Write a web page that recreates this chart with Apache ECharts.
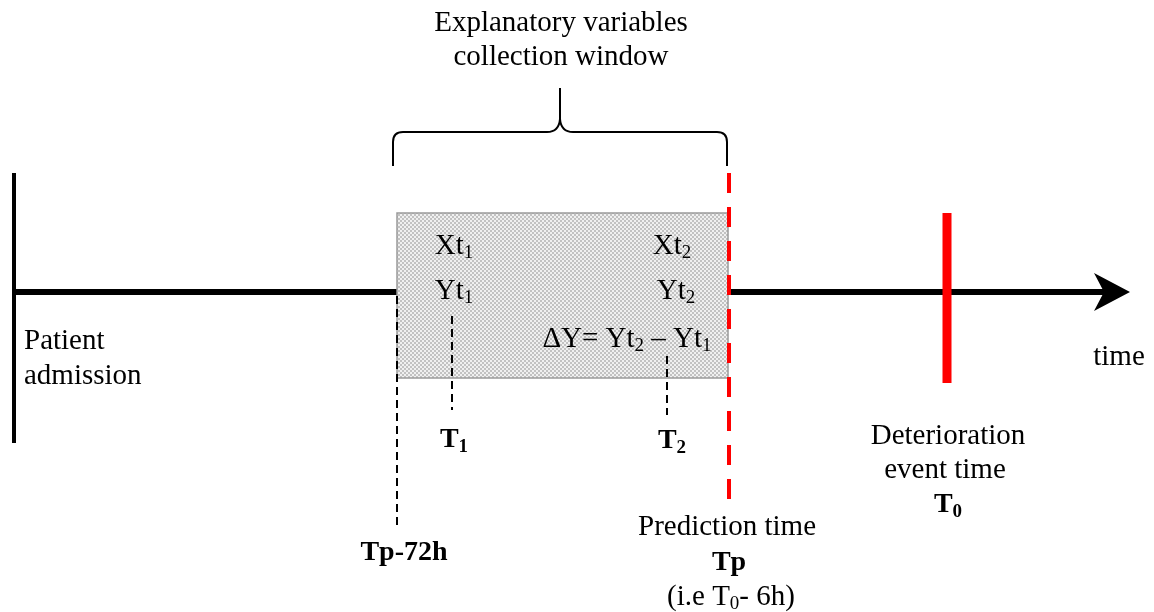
<!DOCTYPE html>
<html><head><meta charset="utf-8">
<script src="https://cdn.jsdelivr.net/npm/echarts@6/dist/echarts.min.js"></script>
<style>html,body{margin:0;padding:0;background:#fff}#c{width:1154px;height:612px}</style>
</head><body><div id="c"></div>
<script>
// ---- Schematic data (axis units of a 0–1154 by 0–612 diagram scale) ----
const timelineY = 292;
const timelineSegments = [[14, 397], [728, 1106]];   // [xStart, xEnd]
const arrowTip = [1130, 292];
const admissionLine = [14, 173, 443];                 // [x, yTop, yBottom]
const eventLine = [947, 213, 383];                    // deterioration T0
const predictionLine = [729, 173, 500];               // Tp (dashed red)
const dashedGuides = [[397, 296, 526], [452, 316, 410], [667, 356, 415]]; // Tp-72h, T1, T2
const windowBox = [397, 213, 728, 378];               // [x0, y0, x1, y1]
const brace = [393, 560, 727, 166, 132, 88];          // [xLeft, xMid, xRight, yEnds, yBar, yTip]

const labelTexts = [
  '{n|Explanatory variables}', '{n|collection window}',
  '{n|Patient}', '{n|admission}',
  '{n|Xt}{s|1}', '{n|Yt}{s|1}', '{n|Xt}{s|2}', '{n|Yt}{s|2}',
  '{n|ΔY= Yt}{s|2}{n| – Yt}{s|1}',
  '{b|T}{bs|1}', '{b|T}{bs|2}', '{b|Tp-72h}',
  '{n|Prediction time}', '{b|Tp}', '{n|(i.e T}{s|0}{n|- 6h)}',
  '{n|Deterioration}', '{n|event time}', '{b|T}{bs|0}',
  '{n|time}'
];
const labelX = [561, 561, 24, 24, 454, 454, 672, 676, 627, 454, 672, 404, 727, 729, 731, 948, 945, 948, 1119];
const labelY = [23, 57, 341, 376, 246, 291, 246, 291, 339, 440, 441, 553, 527, 563, 597, 436, 470, 505, 357];
const labelAlign = ['center','center','left','left','center','center','center','center','center','center','center','center','center','center','center','center','center','center','center'];

// ---- styles ----
const FONT = '"Liberation Serif", "Times New Roman", serif';
const rich = {
  n: {fontFamily: FONT, fontSize: 29, lineHeight: 34, color: '#000'},
  s: {fontFamily: FONT, fontSize: 19, lineHeight: 14, color: '#000', verticalAlign: 'bottom'},
  b: {fontFamily: FONT, fontSize: 28, fontWeight: 'bold', lineHeight: 34, color: '#000'},
  bs: {fontFamily: FONT, fontSize: 19, fontWeight: 'bold', lineHeight: 14, color: '#000', verticalAlign: 'bottom'}
};

function makePattern() {
  const c = document.createElement('canvas');
  c.width = 4; c.height = 4;
  const g = c.getContext('2d');
  g.fillStyle = '#f0f0f0'; g.fillRect(0, 0, 4, 4);
  g.fillStyle = '#c2c2c2'; g.fillRect(0, 0, 2, 2); g.fillRect(2, 2, 2, 2);
  return {image: c, repeat: 'repeat'};
}

function segSeries(data, style, z) {
  return {
    type: 'custom', coordinateSystem: 'cartesian2d', silent: true, clip: false, z: z,
    data: data,
    renderItem: function (params, api) {
      const p1 = api.coord([api.value(0), api.value(1)]);
      const p2 = api.coord([api.value(2), api.value(3)]);
      return {type: 'line', shape: {x1: p1[0], y1: p1[1], x2: p2[0], y2: p2[1]}, style: style};
    }
  };
}
const vert = v => [v[0], v[1], v[0], v[2]];

const chart = echarts.init(document.getElementById('c'), null, {renderer: 'canvas'});
const option = {
  animation: false,
  backgroundColor: '#fff',
  grid: {left: 0, right: 0, top: 0, bottom: 0},
  xAxis: {type: 'value', min: 0, max: 1154, show: false},
  yAxis: {type: 'value', min: 0, max: 612, inverse: true, show: false},
  series: [
    // timeline
    segSeries(timelineSegments.map(s => [s[0], timelineY, s[1], timelineY]), {stroke: '#000', lineWidth: 6}, 2),
    // arrow head
    {
      type: 'custom', coordinateSystem: 'cartesian2d', silent: true, clip: false, z: 2,
      data: [arrowTip],
      renderItem: function (params, api) {
        const t = api.coord([api.value(0), api.value(1)]);
        return {type: 'polygon', shape: {points: [
          [t[0], t[1]], [t[0] - 36, t[1] - 19], [t[0] - 26, t[1]], [t[0] - 36, t[1] + 19]
        ]}, style: {fill: '#000'}};
      }
    },
    // admission vertical line
    segSeries([vert(admissionLine)], {stroke: '#000', lineWidth: 4}, 2),
    // collection window box
    {
      type: 'custom', coordinateSystem: 'cartesian2d', silent: true, clip: false, z: 3,
      data: [windowBox],
      renderItem: function (params, api) {
        const a = api.coord([api.value(0), api.value(1)]);
        const b = api.coord([api.value(2), api.value(3)]);
        return {type: 'rect', shape: {x: a[0], y: a[1], width: b[0] - a[0], height: b[1] - a[1]},
          style: {fill: makePattern(), stroke: '#9a9a9a', lineWidth: 1.5}};
      }
    },
    // dashed black guides
    segSeries(dashedGuides.map(vert), {stroke: '#000', lineWidth: 2, lineDash: [8, 5]}, 4),
    // prediction time dashed red
    segSeries([vert(predictionLine)], {stroke: '#ff0000', lineWidth: 4, lineDash: [20, 14]}, 5),
    // deterioration event solid red
    segSeries([vert(eventLine)], {stroke: '#ff0000', lineWidth: 9}, 5),
    // curly brace
    {
      type: 'custom', coordinateSystem: 'cartesian2d', silent: true, clip: false, z: 2,
      data: [brace],
      renderItem: function (params, api) {
        const xl = api.coord([api.value(0), 0])[0], xm = api.coord([api.value(1), 0])[0], xr = api.coord([api.value(2), 0])[0];
        const ye = api.coord([0, api.value(3)])[1], yb = api.coord([0, api.value(4)])[1], yt = api.coord([0, api.value(5)])[1];
        const st = {stroke: '#000', lineWidth: 2, fill: null};
        const r = 10, c = 13;
        return {type: 'group', children: [
          {type: 'line', shape: {x1: xl, y1: ye, x2: xl, y2: yb + r}, style: st},
          {type: 'bezierCurve', shape: {x1: xl, y1: yb + r, cpx1: xl, cpy1: yb, x2: xl + r, y2: yb}, style: st},
          {type: 'line', shape: {x1: xl + r, y1: yb, x2: xm - c, y2: yb}, style: st},
          {type: 'bezierCurve', shape: {x1: xm - c, y1: yb, cpx1: xm - 1, cpy1: yb, x2: xm, y2: yb - c}, style: st},
          {type: 'line', shape: {x1: xm, y1: yb - c, x2: xm, y2: yt}, style: st},
          {type: 'bezierCurve', shape: {x1: xm, y1: yb - c, cpx1: xm + 1, cpy1: yb, x2: xm + c, y2: yb}, style: st},
          {type: 'line', shape: {x1: xm + c, y1: yb, x2: xr - r, y2: yb}, style: st},
          {type: 'bezierCurve', shape: {x1: xr - r, y1: yb, cpx1: xr, cpy1: yb, x2: xr, y2: yb + r}, style: st},
          {type: 'line', shape: {x1: xr, y1: yb + r, x2: xr, y2: ye}, style: st}
        ]};
      }
    },
    // texts
    {
      type: 'custom', coordinateSystem: 'cartesian2d', silent: true, clip: false, z: 10,
      data: labelX.map((x, i) => [x, labelY[i]]),
      renderItem: function (params, api) {
        const p = api.coord([api.value(0), api.value(1)]);
        const i = params.dataIndex;
        return {type: 'text', x: p[0], y: p[1], style: {
          text: labelTexts[i], rich: rich, align: labelAlign[i], verticalAlign: 'middle',
          fill: '#000', fontFamily: FONT, fontSize: 29
        }};
      }
    }
  ]
};
chart.setOption(option);
</script>
</body></html>
